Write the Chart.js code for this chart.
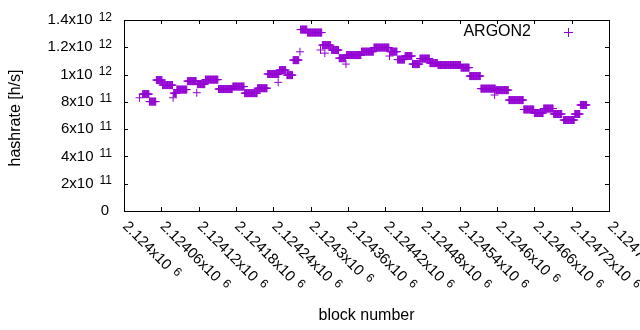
<!DOCTYPE html>
<html>
<head>
<meta charset="utf-8">
<script src="https://cdn.jsdelivr.net/npm/chart.js@4"></script>
<style>
  html, body { margin: 0; padding: 0; background: #fff; }
  #wrap { width: 640px; height: 330px; }
</style>
</head>
<body>
<div id="wrap"><canvas id="chart" width="640" height="330"></canvas></div>
<script>
// block offsets from 2124000, each run is one constant hashrate level
const blockBase = 2124000;
const runStart = [25, 30, 41, 52, 62, 79, 80, 85, 102, 117, 118, 131, 152, 175, 194, 215, 231, 248, 250, 262, 272, 283, 284, 295, 316, 323, 319, 334, 346, 357, 358, 382, 402, 427, 428, 440, 452, 464, 476, 492, 505, 542, 556, 574, 596, 598, 619, 643, 660, 675, 691, 707, 725, 734];
const runEnd   = [25, 40, 51, 61, 78, 79, 84, 101, 116, 117, 130, 151, 174, 193, 214, 230, 249, 248, 260, 271, 281, 283, 294, 318, 316, 323, 332, 345, 356, 357, 381, 401, 426, 427, 439, 451, 463, 475, 491, 504, 541, 555, 573, 597, 596, 618, 642, 659, 674, 690, 704, 724, 733, 744];
const runHash  = [8.3e11, 8.57e11, 8.02e11, 9.6e11, 9.23e11, 8.3e11, 8.64e11, 8.9e11, 9.52e11, 8.67e11, 9.3e11, 9.63e11, 8.94e11, 9.12e11, 8.64e11, 9.0e11, 10.04e11, 9.43e11, 10.33e11, 9.96e11, 11.06e11, 11.67e11, 13.3e11, 13.08e11, 11.8e11, 11.57e11, 12.16e11, 11.8e11, 11.2e11, 10.77e11, 11.43e11, 11.68e11, 11.98e11, 11.36e11, 11.68e11, 11.1e11, 11.36e11, 10.77e11, 11.17e11, 10.84e11, 10.7e11, 10.51e11, 9.89e11, 8.97e11, 8.5e11, 8.86e11, 8.13e11, 7.44e11, 7.18e11, 7.51e11, 7.11e11, 6.67e11, 7.11e11, 7.77e11];

// tick labels
const xTickValues = [2124000, 2124060, 2124120, 2124180, 2124240, 2124300, 2124360, 2124420, 2124480, 2124540, 2124600, 2124660, 2124720, 2124780];
const xTickMant = ['2.124x10', '2.12406x10', '2.12412x10', '2.12418x10', '2.12424x10', '2.1243x10', '2.12436x10', '2.12442x10', '2.12448x10', '2.12454x10', '2.1246x10', '2.12466x10', '2.12472x10', '2.12478x10'];
const xTickExp = '6';
const yTickValues = [0, 2e11, 4e11, 6e11, 8e11, 1e12, 1.2e12, 1.4e12];
const yTickMant = ['0', '2x10', '4x10', '6x10', '8x10', '1x10', '1.2x10', '1.4x10'];
const yTickExp = ['', '11', '11', '11', '11', '12', '12', '12'];

const seriesName = 'ARGON2';
const purple = '#9400d3';
const FONT = "'Liberation Sans', Arial, sans-serif";

const points = [];
for (let i = 0; i < runStart.length; i++) {
    for (let b = runStart[i]; b <= runEnd[i]; b++) {
        points.push({ x: blockBase + b, y: runHash[i] });
    }
}

// border, inward ticks, tick labels, titles, key
const gnuplotLook = {
    id: 'gnuplotLook',
    afterDraw(chart) {
        const ctx = chart.ctx;
        const a = chart.chartArea;
        const xs = chart.scales.x, ys = chart.scales.y;
        ctx.save();
        ctx.strokeStyle = '#000';
        ctx.lineWidth = 1;
        ctx.strokeRect(Math.round(a.left) + 0.5, Math.round(a.top) + 0.5,
            Math.round(a.right - a.left), Math.round(a.bottom - a.top));

        const tl = 4;
        ctx.beginPath();
        xTickValues.forEach(v => {
            const px = Math.round(xs.getPixelForValue(v)) + 0.5;
            ctx.moveTo(px, a.bottom); ctx.lineTo(px, a.bottom - tl);
            ctx.moveTo(px, a.top); ctx.lineTo(px, a.top + tl);
        });
        yTickValues.forEach(v => {
            const py = Math.round(ys.getPixelForValue(v)) + 0.5;
            ctx.moveTo(a.left, py); ctx.lineTo(a.left + tl, py);
            ctx.moveTo(a.right, py); ctx.lineTo(a.right - tl, py);
        });
        ctx.stroke();

        ctx.fillStyle = '#000';
        // y tick labels
        yTickValues.forEach((v, i) => {
            const py = ys.getPixelForValue(v);
            if (!yTickExp[i]) {
                ctx.font = '15px ' + FONT;
                ctx.textAlign = 'right';
                ctx.textBaseline = 'middle';
                ctx.fillText(yTickMant[i], 109, py);
                return;
            }
            ctx.font = '12px ' + FONT;
            const ew = ctx.measureText(yTickExp[i]).width;
            ctx.textAlign = 'left';
            ctx.textBaseline = 'alphabetic';
            ctx.fillText(yTickExp[i], 112 - ew, py + 0.5);
            ctx.font = '15px ' + FONT;
            ctx.textAlign = 'right';
            ctx.textBaseline = 'middle';
            ctx.fillText(yTickMant[i], 112 - ew - 6, py);
        });

        // x tick labels, rotated -45 like gnuplot
        xTickValues.forEach((v, i) => {
            const px = xs.getPixelForValue(v);
            ctx.save();
            ctx.translate(px + 1, a.bottom + 13);
            ctx.rotate(Math.PI / 4);
            ctx.font = '15px ' + FONT;
            ctx.textAlign = 'left';
            ctx.textBaseline = 'middle';
            ctx.fillText(xTickMant[i], 0, 0);
            const mw = ctx.measureText(xTickMant[i]).width;
            ctx.font = '12px ' + FONT;
            ctx.textBaseline = 'alphabetic';
            ctx.fillText(xTickExp, mw + 6, 0.5);
            ctx.restore();
        });

        // axis titles
        ctx.font = '16px ' + FONT;
        ctx.textAlign = 'center';
        ctx.textBaseline = 'middle';
        ctx.fillText('block number', (a.left + a.right) / 2, 316);
        ctx.save();
        ctx.translate(16, 118);
        ctx.rotate(-Math.PI / 2);
        ctx.fillText('hashrate [h/s]', 0, 0);
        ctx.restore();

        // key
        ctx.textAlign = 'right';
        ctx.fillText(seriesName, 531, 32);
        ctx.strokeStyle = purple;
        ctx.beginPath();
        ctx.moveTo(564, 32.5); ctx.lineTo(573, 32.5);
        ctx.moveTo(568.5, 28); ctx.lineTo(568.5, 37);
        ctx.stroke();
        ctx.restore();
    }
};

new Chart(document.getElementById('chart').getContext('2d'), {
    type: 'scatter',
    data: {
        datasets: [{
            label: seriesName,
            data: points,
            pointStyle: 'cross',
            pointRadius: 4,
            pointHoverRadius: 4,
            borderColor: purple,
            backgroundColor: purple,
            borderWidth: 1,
            showLine: false
        }]
    },
    options: {
        responsive: false,
        animation: false,
        events: [],
        layout: { padding: { top: 20, right: 31, left: 0, bottom: 0 } },
        plugins: { legend: { display: false }, tooltip: { enabled: false } },
        scales: {
            x: {
                type: 'linear', min: 2124000, max: 2124780,
                ticks: { display: false, stepSize: 60 },
                grid: { display: false }, border: { display: false },
                afterFit: (s) => { s.height = 119; }
            },
            y: {
                min: 0, max: 1.4e12,
                ticks: { display: false, stepSize: 2e11 },
                grid: { display: false }, border: { display: false },
                afterFit: (s) => { s.width = 124; }
            }
        }
    },
    plugins: [gnuplotLook]
});
</script>
</body>
</html>
